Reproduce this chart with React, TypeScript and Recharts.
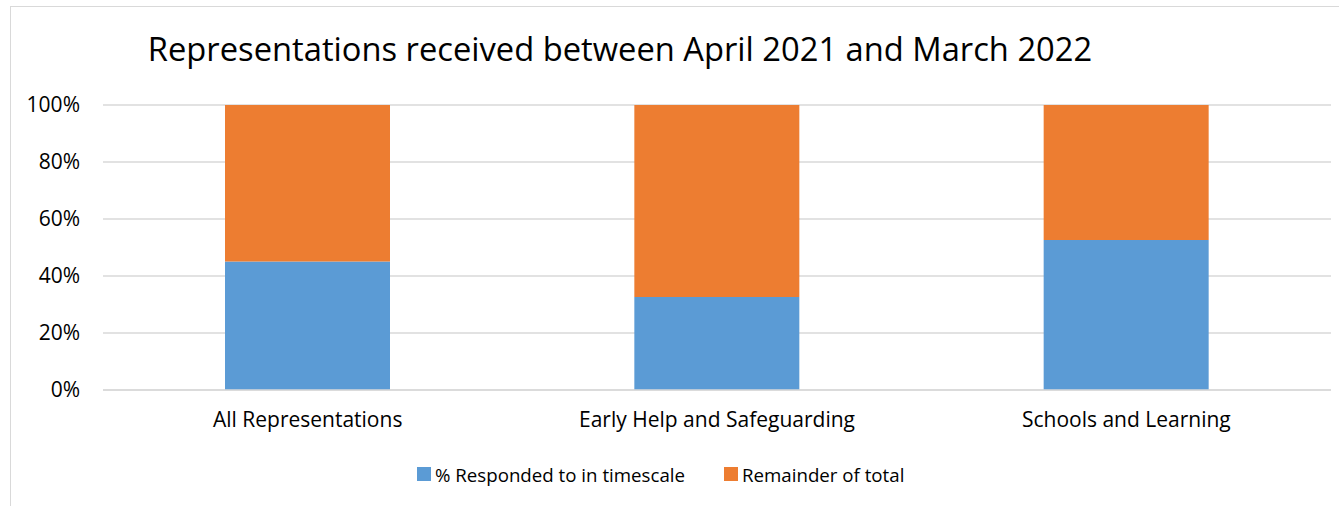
import { BarChart, Bar, XAxis, YAxis, CartesianGrid, Legend } from 'recharts';

const categories = ['All Representations', 'Early Help and Safeguarding', 'Schools and Learning'];
const responded = [0.451, 0.326, 0.526];
const remainder = responded.map((v) => 1 - v);
const yTicks = [0, 0.2, 0.4, 0.6, 0.8, 1];
const seriesNames = ['% Responded to in timescale', 'Remainder of total'];
const seriesColors = ['#5B9BD5', '#ED7D31'];

const data = categories.map((name, i) => ({
  name,
  responded: responded[i],
  remainder: remainder[i],
}));

const FONT = '"Open Sans", "Noto Sans", sans-serif';

const renderLegend = () => (
  <div style={{ display: 'flex', alignItems: 'center', fontSize: 18.7, color: '#000', fontFamily: FONT, height: 24 }}>
    {seriesNames.map((n, i) => (
      <div key={n} style={{ display: 'flex', alignItems: 'center', marginRight: 39 }}>
        <span style={{ display: 'inline-block', width: 14, height: 14, background: seriesColors[i], marginRight: 4 }} />
        <span>{n}</span>
      </div>
    ))}
  </div>
);

const App = () => {
  return (
    <div style={{ position: 'absolute', left: 0, top: 0, width: 1339, height: 506, background: '#fff', fontFamily: FONT }}>
      <div
        style={{
          position: 'absolute',
          left: 10,
          top: 6,
          width: 1340,
          height: 510,
          border: '1px solid #d9d9d9',
          boxSizing: 'border-box',
        }}
      />
      <div
        style={{
          position: 'absolute',
          left: 0,
          width: 1240,
          top: 29,
          textAlign: 'center',
          fontSize: 32.7,
          color: '#000',
          lineHeight: '40px',
        }}
      >
        Representations received between April 2021 and March 2022
      </div>
      <BarChart
        width={1339}
        height={506}
        data={data}
        margin={{ top: 105, right: 8, bottom: 52, left: 0 }}
        barCategoryGap={122}
        style={{ position: 'absolute', left: 0, top: 0 }}
      >
        <CartesianGrid vertical={false} stroke="#d9d9d9" strokeWidth={1.5} />
        <XAxis
          dataKey="name"
          axisLine={{ stroke: '#d9d9d9', strokeWidth: 1.5 }}
          tickLine={false}
          tickSize={0}
          tickMargin={22}
          height={40}
          tick={{ fill: '#000', fontSize: 21, fontFamily: FONT }}
        />
        <YAxis
          width={103}
          domain={[0, 1]}
          ticks={yTicks}
          axisLine={false}
          tickLine={false}
          tickSize={0}
          tickMargin={23}
          tickFormatter={(v: number) => `${Math.round(v * 100)}%`}
          tick={{ fill: '#000', fontSize: 21, fontFamily: FONT }}
        />
        <Legend content={renderLegend} wrapperStyle={{ top: 462, left: 417, width: 700 }} />
        <Bar dataKey="responded" name={seriesNames[0]} stackId="a" fill={seriesColors[0]} isAnimationActive={false} />
        <Bar dataKey="remainder" name={seriesNames[1]} stackId="a" fill={seriesColors[1]} isAnimationActive={false} />
      </BarChart>
    </div>
  );
};

export default App;
